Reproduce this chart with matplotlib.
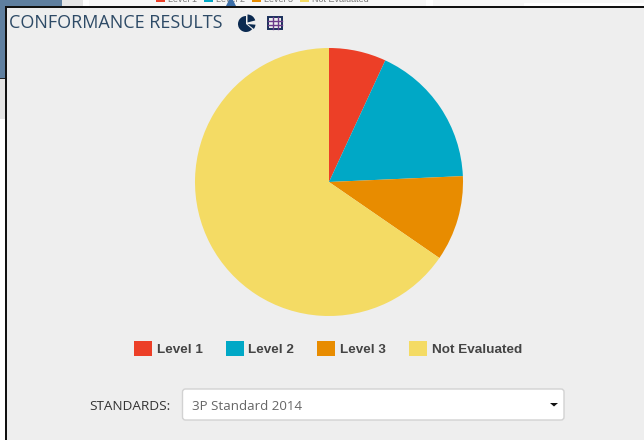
import matplotlib
matplotlib.use("Agg")
import matplotlib.pyplot as plt
from matplotlib.patches import Rectangle, FancyBboxPatch, Polygon, Wedge

W, H = 644, 440

labels = ["Level 1", "Level 2", "Level 3", "Not Evaluated"]
values = [6.9, 17.4, 10.3, 65.4]
colors = ["#EC3F27", "#00A8C6", "#E88C00", "#F4DB64"]

title = "CONFORMANCE RESULTS"
select_label = "STANDARDS:"
select_value = "3P Standard 2014"

fig = plt.figure(figsize=(W / 100, H / 100), dpi=100, facecolor="#EEEEEE")

# everything around the chart, in pixels from the top left
bg = fig.add_axes([0, 0, 1, 1])
bg.set_xlim(0, W)
bg.set_ylim(H, 0)
bg.axis("off")

def box(x, y, w, h, c, z=1):
    bg.add_patch(Rectangle((x, y), w, h, fc=c, ec="none", zorder=z))

# what shows behind the panel
box(0, 0, 644, 7, "#F7F7F7")
box(0, 0, 62, 78, "#5F7F9F")
box(62, 0, 21, 7, "#E6E6E6")
box(83, 0, 6, 7, "#FFFFFF")
box(0, 79, 6, 40, "#E4E4E4")
box(0, 119, 6, 321, "#FFFFFF")
box(0, 78, 6, 1.5, "#222222", 2)
box(524, 3, 120, 4, "#FFFFFF")
box(426, 0, 7, 7, "#FFFFFF")

# small legend cut off at the top
for x, c in zip([156, 204, 252, 300], colors):
    box(x, 0, 9, 2.5, c, 2)
for x, s in zip([168, 216, 264, 312], labels):
    bg.text(x, 2.2, s, fontsize=6.5, color="#777777", va="baseline", family="Liberation Sans", clip_on=True)
bg.add_patch(Polygon([[229, 0], [233, 0], [236, 6], [226, 6]], fc="#3D6FA8", ec="none", zorder=3))

# panel with its black edge
box(6, 7, 638, 433, "#EEEEEE", 3)
box(5, 6.5, 639, 1.8, "#111111", 4)
box(5, 6.5, 2.2, 433.5, "#111111", 4)

bg.text(9, 28, title, fontsize=13, color="#2D4A66", family="Open Sans", va="baseline", zorder=5)

# pie and table icons
bg.add_patch(Wedge((246, 24), 8, 40, 270, fc="#0B2A50", ec="none", zorder=5))
bg.add_patch(Wedge((247.5, 22.5), 8, 270, 345, fc="#0B2A50", ec="none", zorder=5))
bg.add_patch(Wedge((247.5, 24), 8, 5, 38, fc="#0B2A50", ec="none", zorder=5))
bg.add_patch(Rectangle((268.5, 17.5), 14, 12, fc="#EEEEEE", ec="#1A2E5A", lw=1.4, zorder=5))
for yy in [21.5, 25.5]:
    bg.plot([268.5, 282.5], [yy, yy], color="#6B3A8A", lw=1, zorder=6)
for xx in [273.2, 277.8]:
    bg.plot([xx, xx], [17.5, 29.5], color="#6B3A8A", lw=1, zorder=6)

# select box
bg.text(89, 410, select_label, fontsize=9.7, color="#333333", family="Open Sans", zorder=5)
bg.add_patch(FancyBboxPatch((182.5, 389), 381.5, 31, boxstyle="round,pad=0,rounding_size=3",
                            fc="#FFFFFF", ec="#D2D2D2", lw=1, zorder=5))
bg.text(192, 410, select_value, fontsize=9.6, color="#666666", family="Open Sans", zorder=6)
bg.add_patch(Polygon([[550, 403], [558, 403], [554, 406.5]], fc="#111111", ec="none", zorder=6))

# pie
r = 134
cx, cy = 329, 182
ax = fig.add_axes([(cx - r) / W, 1 - (cy + r) / H, 2 * r / W, 2 * r / H], zorder=5)
wedges, _ = ax.pie(values, colors=colors, startangle=90, counterclock=False, radius=1)
ax.set_xlim(-1, 1)
ax.set_ylim(-1, 1)

leg = fig.legend(wedges, labels, ncol=4, loc="center", bbox_to_anchor=(328 / W, 1 - 348.5 / H),
                 frameon=False, handlelength=1.33, handleheight=1.3, handletextpad=0.37,
                 columnspacing=1.7, borderpad=0,
                 prop={"family": "Liberation Sans", "weight": "bold", "size": 9.7})
leg.set_zorder(6)
for t in leg.get_texts():
    t.set_color("#444444")

fig.savefig("out.png", dpi=100, facecolor=fig.get_facecolor())
